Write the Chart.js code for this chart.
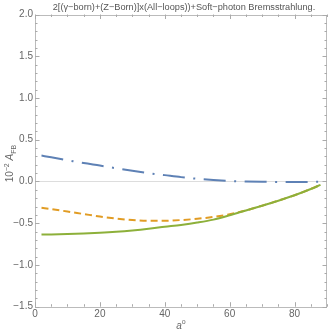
<!DOCTYPE html>
<html>
<head>
<meta charset="utf-8">
<script src="https://cdn.jsdelivr.net/npm/chart.js@4/dist/chart.umd.min.js"></script>
<style>
html,body{margin:0;padding:0;background:#fff;}
#wrap{width:329px;height:335px;position:relative;}
</style>
</head>
<body>
<div id="wrap"><canvas id="c" width="329" height="335"></canvas></div>
<script>
// angles (degrees)
const angles = [2, 5, 10, 15, 20, 25, 30, 35, 40, 45, 50, 55, 60, 65, 70, 75, 80, 85, 88];
// dash-dot blue series
const seriesBlue = [0.31, 0.29, 0.255, 0.22, 0.19, 0.158, 0.128, 0.10, 0.076, 0.052, 0.032, 0.017, 0.006, 0.0, -0.004, -0.006, -0.006, -0.005, -0.004];
// dashed orange series
const seriesOrange = [-0.315, -0.33, -0.36, -0.39, -0.42, -0.445, -0.462, -0.47, -0.47, -0.462, -0.447, -0.425, -0.392, -0.347, -0.29, -0.23, -0.165, -0.09, -0.04];
// solid green series
const seriesGreen = [-0.635, -0.634, -0.63, -0.624, -0.615, -0.603, -0.587, -0.567, -0.543, -0.52, -0.492, -0.457, -0.405, -0.347, -0.29, -0.23, -0.165, -0.09, -0.04];
// axis ticks
const yTicksMajor = [-1.5, -1.0, -0.5, 0.0, 0.5, 1.0, 1.5, 2.0];
const xTicksMajor = [0, 20, 40, 60, 80];
const titleText = "2[(\u03b3\u2212born)+(Z\u2212Born)]x(All\u2212loops))+Soft\u2212photon Bremsstrahlung.";

const pts = (ys) => angles.map((x, i) => ({x: x, y: ys[i]}));

const FONT = '"Liberation Sans", Arial, sans-serif';
const TXT = '#666';

const decor = {
  id: 'decor',
  beforeDatasetsDraw(chart) {
    const {ctx, chartArea: a, scales: {x, y}} = chart;
    ctx.save();
    // frame
    ctx.strokeStyle = '#bbb';
    ctx.lineWidth = 1;
    ctx.strokeRect(Math.round(a.left) + 0.5, Math.round(a.top) + 0.5, Math.round(a.right - a.left) - 1, Math.round(a.bottom - a.top));
    // y ticks (major 0.5, minor 0.1)
    ctx.strokeStyle = '#aaa';
    for (let k = -15; k <= 20; k++) {
      const v = k / 10;
      const py = Math.round(y.getPixelForValue(v)) + 0.5;
      const major = (k % 5 === 0);
      const len = major ? 4.5 : 2.5;
      ctx.beginPath();
      ctx.moveTo(a.left, py); ctx.lineTo(a.left + len, py);
      ctx.moveTo(a.right, py); ctx.lineTo(a.right - len, py);
      ctx.stroke();
    }
    for (let v = 0; v <= 90; v += 5) {
      const px = Math.round(x.getPixelForValue(v)) + 0.5;
      const major = (v % 20 === 0);
      const len = major ? 4.5 : 2.5;
      ctx.beginPath();
      ctx.moveTo(px, a.bottom); ctx.lineTo(px, a.bottom - len);
      ctx.moveTo(px, a.top); ctx.lineTo(px, a.top + len);
      ctx.stroke();
    }
    ctx.restore();
  },
  afterDraw(chart) {
    const {ctx, chartArea: a} = chart;
    ctx.save();
    ctx.fillStyle = '#555';
    // title
    ctx.font = '9.2px ' + FONT;
    ctx.textAlign = 'center';
    ctx.textBaseline = 'middle';
    ctx.fillText(titleText, 184, 7);
    // x label: a°
    ctx.fillStyle = TXT;
    const xl = (a.left + a.right) / 2;
    ctx.font = 'italic 10px ' + FONT;
    ctx.textAlign = 'left';
    ctx.textBaseline = 'alphabetic';
    const wa = ctx.measureText('a').width;
    ctx.font = '7px ' + FONT;
    const wo = ctx.measureText('o').width;
    const sx = xl - (wa + wo) / 2;
    ctx.font = 'italic 10px ' + FONT;
    ctx.fillText('a', sx, 329);
    ctx.font = '7px ' + FONT;
    ctx.fillText('o', sx + wa, 324);
    // y label: 10^-2 A_FB rotated
    ctx.translate(13, (a.top + a.bottom) / 2 + 3);
    ctx.rotate(-Math.PI / 2);
    const parts = [
      {t: '10', f: '10px ' + FONT, dy: 0},
      {t: '\u22122', f: '7px ' + FONT, dy: -4},
      {t: ' ', f: '10px ' + FONT, dy: 0},
      {t: 'A', f: 'italic 10px ' + FONT, dy: 0},
      {t: 'FB', f: '7px ' + FONT, dy: 2.5}
    ];
    let total = 0;
    parts.forEach(p => { ctx.font = p.f; p.w = ctx.measureText(p.t).width; total += p.w; });
    let cx = -total / 2;
    parts.forEach(p => { ctx.font = p.f; ctx.fillText(p.t, cx, p.dy); cx += p.w; });
    ctx.restore();
  }
};

new Chart(document.getElementById('c'), {
  type: 'line',
  data: {
    datasets: [
      {data: pts(seriesGreen), borderColor: '#8DB03A', borderWidth: 2, pointRadius: 0, fill: false, cubicInterpolationMode: 'monotone', order: 0},
      {data: pts(seriesOrange), borderColor: '#E19C24', borderWidth: 2, borderDash: [7, 4], pointRadius: 0, fill: false, cubicInterpolationMode: 'monotone', order: 1},
      {data: pts(seriesBlue), borderColor: '#5E81B5', borderWidth: 2, borderDash: [22, 8.5, 2, 8.5], pointRadius: 0, fill: false, cubicInterpolationMode: 'monotone', order: 2}
    ]
  },
  options: {
    responsive: false,
    animation: false,
    events: [],
    layout: {padding: {left: 0, right: 2, top: 14.5, bottom: 0}},
    plugins: {legend: {display: false}, tooltip: {enabled: false}, title: {display: false}},
    scales: {
      x: {
        type: 'linear', min: 0, max: 90,
        afterBuildTicks: (s) => { s.ticks = xTicksMajor.map(v => ({value: v})); },
        ticks: {color: TXT, font: {size: 10, family: FONT}, padding: 2, maxRotation: 0},
        grid: {display: false, drawTicks: false},
        border: {display: false},
        afterFit: (s) => { s.height = 28.3; }
      },
      y: {
        type: 'linear', min: -1.5, max: 2.0,
        afterBuildTicks: (s) => { s.ticks = yTicksMajor.map(v => ({value: v})); },
        ticks: {color: TXT, font: {size: 10, family: FONT}, padding: 2,
          callback: (v) => (v < 0 ? '\u2212' : '') + Math.abs(v).toFixed(1)},
        grid: {drawTicks: false, color: (c) => (c.tick && c.tick.value === 0) ? '#ddd' : 'rgba(0,0,0,0)'},
        border: {display: false},
        afterFit: (s) => { s.width = 35; }
      }
    }
  },
  plugins: [decor]
});
</script>
</body>
</html>
